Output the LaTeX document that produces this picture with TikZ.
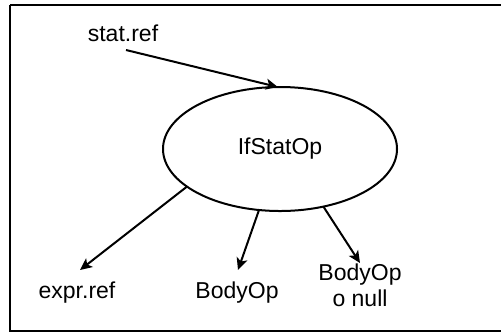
\documentclass[tikz,border=0pt]{standalone}
\usepackage{fontspec}
\setmainfont{Liberation Sans}
\usetikzlibrary{arrows.meta, shapes.geometric}

\begin{document}
\begin{tikzpicture}[x=0.5pt, y=-0.5pt, line width=1pt, >={Stealth[length=6pt,width=5.5pt,inset=1.5pt]},
  label/.style={font=\fontsize{11.5}{13}\selectfont, align=center, inner sep=0pt},
  opnode/.style={ellipse, draw, minimum width=117pt, minimum height=62pt, inner sep=0pt, outer sep=0pt, font=\fontsize{11.5}{13}\selectfont}]
\useasboundingbox (0,0) rectangle (501,333);
% Frame
\draw (10,5) -- (510,5) (10,5) -- (10,331) -- (510,331);
% Nodes
\node[opnode] (ifstat) at (280,149) {IfStatOp};
\node[label] (stat) at (123,33) {stat.ref};
\node[label] (expr) at (77,293) {expr.ref};
\node[label] (body) at (237,293) {BodyOp};
\node[label] (bodynull) at (360,285) {BodyOp\\o null};
% Connector ends
\coordinate (stat-out) at (126,50);
\coordinate (expr-in) at (80,270);
\coordinate (body-in) at (238,270);
\coordinate (bodynull-in) at (360,263);
% Connectors
\draw[->] (stat-out) -- (ifstat.92);
\draw[->] (ifstat.202) -- (expr-in);
\draw[->] (ifstat.251) -- (body-in);
\draw[->] (ifstat.307) -- (bodynull-in);
\end{tikzpicture}
\end{document}
